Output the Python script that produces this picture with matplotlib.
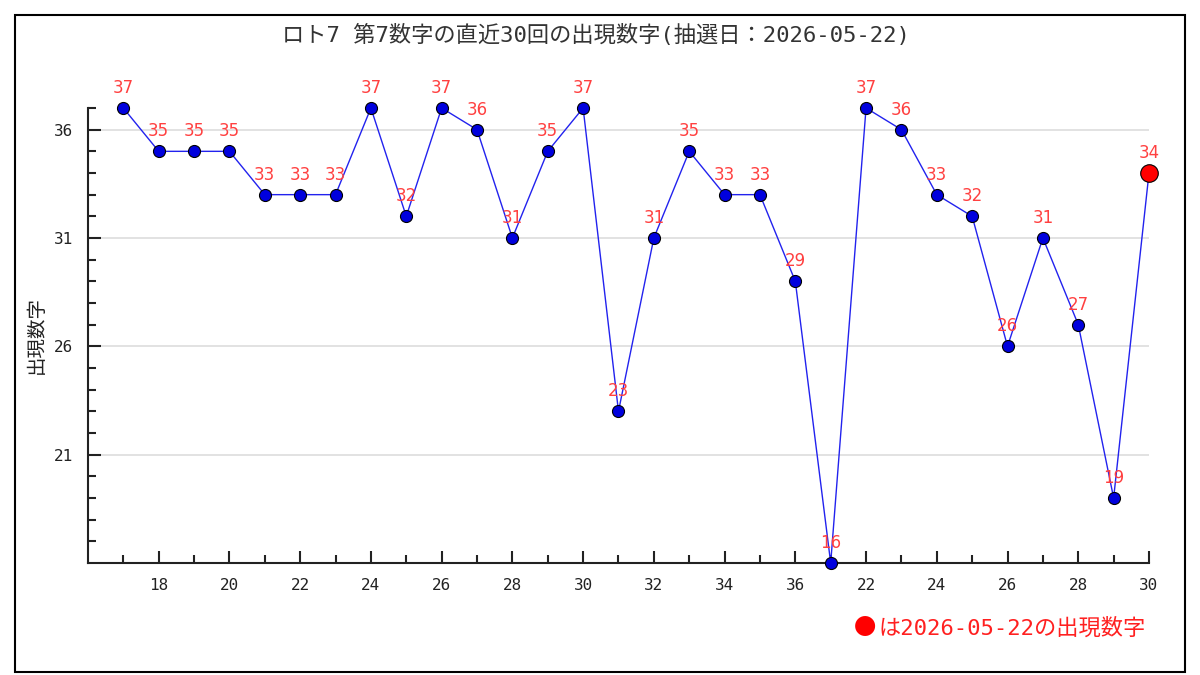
import matplotlib.pyplot as plt
from matplotlib.patches import Rectangle
from matplotlib.ticker import FixedLocator, NullFormatter

MONO = ['DejaVu Sans Mono', 'Noto Sans CJK JP']
plt.rcParams['font.family'] = MONO

# --- Data ---
values = [37, 35, 35, 35, 33, 33, 33, 37, 32, 37, 36, 31, 35, 37, 23,
          31, 35, 33, 33, 29, 16, 37, 36, 33, 32, 26, 31, 27, 19, 34]
tick_pos = [1, 3, 5, 7, 9, 11, 13, 15, 17, 19, 21, 23, 25, 27, 29]
tick_labels = ["18", "20", "22", "24", "26", "28", "30", "32", "34", "36",
               "22", "24", "26", "28", "30"]
y_ticks = [21, 26, 31, 36]
title = "ロト7 第7数字の直近30回の出現数字(抽選日：2026-05-22)"
note = "は2026-05-22の出現数字"

fig = plt.figure(figsize=(12, 6.75), dpi=100)
ax = fig.add_axes([0.0733, 0.166, 0.8842, 0.674])

x = list(range(len(values)))
ax.plot(x, values, color='#2222ee', lw=1, zorder=2)
ax.scatter(x[:-1], values[:-1], s=75, color='#0000dd', edgecolor='black',
           linewidth=0.8, zorder=3, clip_on=False)
ax.scatter(x[-1:], values[-1:], s=160, color='#ff0000', edgecolor='black',
           linewidth=0.8, zorder=4, clip_on=False)

for xi, v in zip(x, values):
    ax.annotate(str(v), (xi, v), xytext=(0, 14.5), textcoords='offset points',
                ha='center', va='center', color='#ff4040', fontsize=12,
                family=['DejaVu Sans'], zorder=5, annotation_clip=False)

ax.set_xlim(-1, 29)
ax.set_ylim(16, 37)

ax.set_xticks(tick_pos)
ax.set_xticklabels(tick_labels)
ax.xaxis.set_minor_locator(FixedLocator([p for p in range(0, 30) if p not in tick_pos]))
ax.set_yticks(y_ticks)
ax.yaxis.set_minor_locator(FixedLocator([v for v in range(17, 38) if v not in y_ticks]))
ax.yaxis.set_minor_formatter(NullFormatter())

ax.tick_params(which='major', direction='in', length=9, width=1.5,
               labelsize=11.5, pad=11, colors='#222222')
ax.tick_params(which='minor', direction='in', length=6, width=1.5, colors='#222222')

ax.grid(axis='y', which='major', color='#dddddd', lw=1.2)
ax.set_axisbelow(True)
for side in ['top', 'right']:
    ax.spines[side].set_visible(False)
for side in ['left', 'bottom']:
    ax.spines[side].set_linewidth(1.5)
    ax.spines[side].set_color('#222222')

fig.text(0.03, 0.504, "出現数字", rotation=90, ha='center', va='center',
         fontsize=14, color='#222222')
fig.text(0.497, 0.948, title, ha='center', va='center', fontsize=16, color='#333333')

# note below the axes: big dot + text
fig.text(0.9545, 0.069, note, ha='right', va='center', fontsize=16, color='#ff2020')
fig.text(0.7205, 0.071, "●", ha='center', va='center', fontsize=16,
         family=['Noto Sans CJK JP'], color='#ff0000')

# outer frame
fig.patches.append(Rectangle((15 / 1200, 3 / 675), 1170 / 1200, 657 / 675,
                             transform=fig.transFigure, fill=False,
                             edgecolor='black', lw=1.5))

fig.savefig("out.png", dpi=100)
